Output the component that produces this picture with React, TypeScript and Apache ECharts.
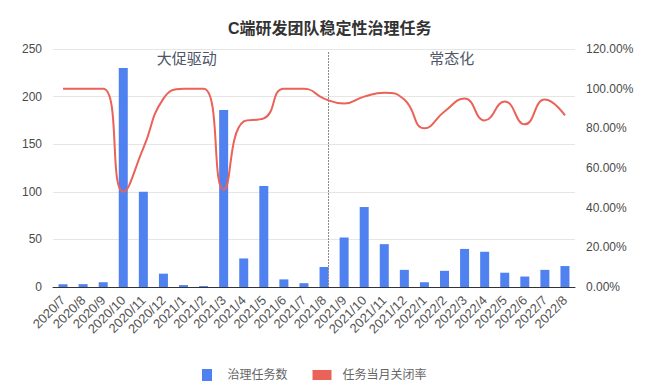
import React, { useEffect, useRef } from "react";
import * as echarts from "echarts";

const categories = [
  "2020/7", "2020/8", "2020/9", "2020/10", "2020/11", "2020/12",
  "2021/1", "2021/2", "2021/3", "2021/4", "2021/5", "2021/6",
  "2021/7", "2021/8", "2021/9", "2021/10", "2021/11", "2021/12",
  "2022/1", "2022/2", "2022/3", "2022/4", "2022/5", "2022/6",
  "2022/7", "2022/8",
];
const taskCounts = [3, 3, 5, 230, 100, 14, 2, 1, 186, 30, 106, 8, 4, 21, 52, 84, 45, 18, 5, 17, 40, 37, 15, 11, 18, 22];
const closeRates = [1.0, 1.0, 1.0, 0.48, 0.70, 0.95, 1.0, 1.0, 0.49, 0.835, 0.85, 1.0, 1.0, 0.95, 0.925, 0.96, 0.98, 0.945, 0.80, 0.885, 0.95, 0.84, 0.935, 0.82, 0.945, 0.865];
const dividerCategory = "2021/8";
const phaseLabels = ["大促驱动", "常态化"];

const FONT = "'Liberation Sans', 'Noto Sans CJK SC', sans-serif";
const BAR_WIDTH = 9;

export default function App() {
  const ref = useRef<HTMLDivElement>(null);
  useEffect(() => {
    document.body.style.margin = "0";
    if (!ref.current) return;
    const chart = echarts.init(ref.current, null, { renderer: "svg" });
    chart.setOption({
      animation: false,
      textStyle: { fontFamily: FONT },
      title: {
        text: "C端研发团队稳定性治理任务",
        left: 223,
        top: 15,
        textStyle: { fontSize: 16, fontWeight: "bold", color: "#333", fontFamily: FONT },
      },
      grid: { left: 53, right: 95, top: 49, bottom: 104 },
      legend: {
        left: 197,
        top: 364,
        itemWidth: 19,
        itemHeight: 12,
        itemGap: 25,
        textStyle: { fontSize: 12, color: "#666", padding: [0, 0, 0, 6], fontFamily: FONT },
        data: [
          { name: "治理任务数", icon: "path://M0,0h10v12h-10z" },
          { name: "任务当月关闭率", icon: "path://M0,0h19v10h-19z" },
        ],
      },
      xAxis: {
        type: "category",
        data: categories,
        axisTick: { show: false },
        axisLine: { lineStyle: { color: "#333" } },
        axisLabel: { rotate: 45, fontSize: 13, color: "#555", interval: 0, margin: 11 },
      },
      yAxis: [
        {
          type: "value",
          min: 0,
          max: 250,
          interval: 50,
          axisLabel: { fontSize: 12, color: "#4a4a4a", margin: 11 },
          splitLine: { lineStyle: { color: "#e6e6e6" } },
        },
        {
          type: "value",
          min: 0,
          max: 1.2,
          interval: 0.2,
          axisLabel: {
            fontSize: 12,
            color: "#4a4a4a",
            margin: 11,
            formatter: (v: number) => (v * 100).toFixed(2) + "%",
          },
          splitLine: { show: false },
        },
      ],
      series: [
        {
          name: "治理任务数",
          type: "bar",
          data: taskCounts,
          barWidth: BAR_WIDTH,
          itemStyle: { color: "#4f81f0" },
        },
        {
          name: "任务当月关闭率",
          type: "line",
          yAxisIndex: 1,
          data: closeRates,
          smooth: true,
          symbol: "none",
          lineStyle: { color: "#eb6259", width: 2 },
          itemStyle: { color: "#eb6259" },
        },
      ],
    });

    const [cx] = chart.convertToPixel({ xAxisIndex: 0, yAxisIndex: 0 }, [dividerCategory, 0]) as number[];
    const [leftX, bottomY] = chart.convertToPixel({ xAxisIndex: 0, yAxisIndex: 0 }, [categories[0], 0]) as number[];
    const [rightX] = chart.convertToPixel({ xAxisIndex: 0, yAxisIndex: 0 }, [categories[categories.length - 1], 0]) as number[];
    const band = (rightX - leftX) / (categories.length - 1);
    const gridLeft = leftX - band / 2;
    const gridRight = rightX + band / 2;
    const [, topY] = chart.convertToPixel({ xAxisIndex: 0, yAxisIndex: 0 }, [categories[0], 250]) as number[];
    const divX = cx + BAR_WIDTH / 2;

    chart.setOption({
      graphic: [
        {
          type: "line",
          shape: { x1: divX, y1: topY + 3, x2: divX, y2: bottomY },
          style: { stroke: "#888", lineWidth: 1, lineDash: [2, 1] },
          z: 10,
        },
        {
          type: "text",
          x: (gridLeft + divX) / 2 - 4,
          y: topY + 9,
          style: {
            text: phaseLabels[0],
            fontSize: 15,
            fill: "#4d5566",
            fontFamily: FONT,
            align: "center",
            verticalAlign: "middle",
          },
        },
        {
          type: "text",
          x: (divX + gridRight) / 2,
          y: topY + 9,
          style: {
            text: phaseLabels[1],
            fontSize: 15,
            fill: "#4d5566",
            fontFamily: FONT,
            align: "center",
            verticalAlign: "middle",
          },
        },
      ],
    });

    return () => chart.dispose();
  }, []);
  return <div ref={ref} style={{ width: 670, height: 391 }} />;
}
